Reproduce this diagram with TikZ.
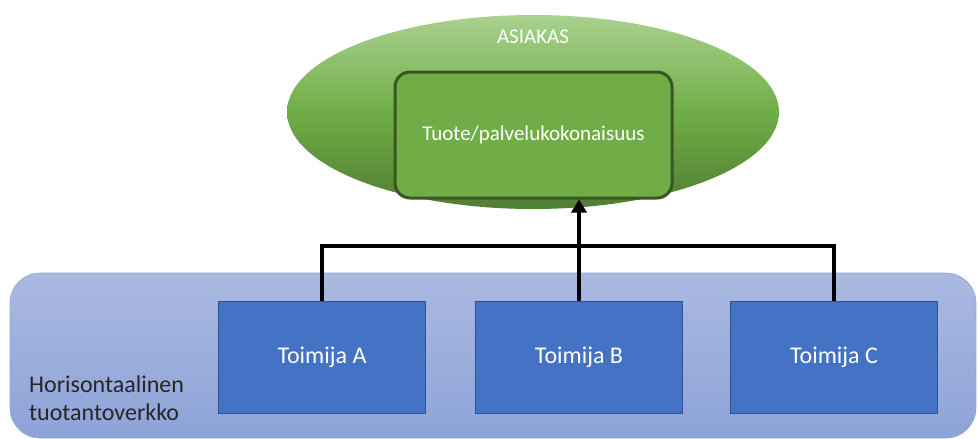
\documentclass[tikz,border=0pt]{standalone}
\usepackage{fontspec}
\setmainfont{Carlito}
\usetikzlibrary{arrows.meta,shapes.geometric}
\definecolor{lgreen}{HTML}{A9D18E}
\definecolor{mgreen}{HTML}{70AD47}
\definecolor{dgreen}{HTML}{507E33}
\definecolor{edgegreen}{HTML}{385723}
\definecolor{bluefill}{HTML}{4472C4}
\definecolor{blueedge}{HTML}{2F528F}
\definecolor{paletop}{HTML}{ABB9E1}
\definecolor{palebot}{HTML}{8DA3D8}
\definecolor{paleedge}{HTML}{8FA6D6}
\tikzset{
  label font/.style={font=\fontsize{21}{26}\selectfont},
  big font/.style={font=\fontsize{24}{28}\selectfont},
  actor/.style={draw=blueedge, line width=0.8pt, fill=bluefill, minimum width=207pt,
    minimum height=112pt, text=white, big font, inner sep=0pt},
  link/.style={line width=4pt, black},
}
\begin{document}
\begin{tikzpicture}[x=1pt,y=-1pt]
\useasboundingbox (0,0) rectangle (978,439);
% network background
\shade[top color=paletop, bottom color=palebot, draw=paleedge, line width=0.6pt,
  rounded corners=30pt] (10,273) rectangle (976,438);
\node[anchor=west, align=left, big font, inner sep=0pt, text=black!85]
  (net) at (29,398) {Horisontaalinen\\tuotantoverkko};
% customer ellipse
\node[ellipse, minimum width=492pt, minimum height=194pt, inner sep=0pt,
  top color=lgreen, bottom color=dgreen, middle color=mgreen] (cust) at (533,112) {};
\node[text=white, label font] (custlabel) at (533,37) {ASIAKAS};
% product box
\node[draw=edgegreen, line width=3pt, fill=mgreen, rounded corners=15pt,
  minimum width=277pt, minimum height=126pt, text=white, label font]
  (prod) at (533.5,135) {Tuote/palvelukokonaisuus};
% actors
\node[actor] (A) at (322,357) {Toimija A};
\node[actor] (B) at (579,357) {Toimija B};
\node[actor] (C) at (834,357) {Toimija C};
% connectors
\coordinate (bar) at (579,246);
\draw[link] (A.north) |- (bar) -| (C.north);
\draw[link, -{Triangle[length=13pt,width=15pt]}] (B.north) -- (B.north |- prod.south);
\end{tikzpicture}
\end{document}
